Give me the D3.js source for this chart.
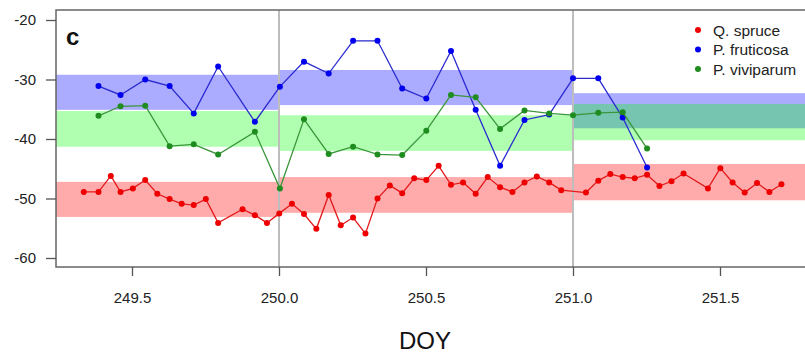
<!DOCTYPE html>
<html>
<head>
<meta charset="utf-8">
<script src="https://cdn.jsdelivr.net/npm/d3@7"></script>
<style>
  html, body { margin: 0; padding: 0; background: #fff; }
  svg { display: block; font-family: "Liberation Sans", Arial, sans-serif; }
</style>
</head>
<body>
<div id="chart"></div>
<script>
// DOY of each sample and the values
const spruceDoy = [249.336, 249.386, 249.428, 249.461, 249.503, 249.545, 249.586, 249.628, 249.669, 249.710,
  249.751, 249.793, 249.876, 249.918, 249.959, 250.001, 250.044, 250.085, 250.127, 250.169,
  250.210, 250.252, 250.294, 250.335, 250.377, 250.419, 250.460, 250.501, 250.543, 250.585,
  250.626, 250.669, 250.710, 250.752, 250.794, 250.835, 250.877, 250.919, 250.960, 251.044,
  251.086, 251.127, 251.169, 251.210, 251.252, 251.294, 251.335, 251.376, 251.459, 251.501,
  251.543, 251.584, 251.626, 251.668, 251.709];
const spruceVal = [-48.9, -48.9, -46.2, -48.9, -48.3, -46.9, -49.2, -50.1, -50.9, -51.1,
  -50.1, -54.1, -51.8, -52.8, -54.1, -52.5, -50.9, -52.6, -55.1, -49.4,
  -54.5, -53.2, -55.9, -50.0, -47.8, -49.1, -46.6, -46.9, -44.5, -47.7,
  -47.3, -49.2, -46.4, -48.1, -48.9, -47.3, -46.3, -47.3, -48.6, -49.0,
  -47.0, -45.9, -46.4, -46.6, -46.0, -47.9, -47.1, -45.8, -48.3, -44.9,
  -47.3, -49.0, -47.4, -48.9, -47.6];

const plantDoy = [249.386, 249.461, 249.545, 249.628, 249.710, 249.793, 249.918, 250.003, 250.085, 250.169,
  250.252, 250.335, 250.419, 250.501, 250.585, 250.669, 250.752, 250.835, 250.919, 251.0,
  251.086, 251.169, 251.252];
const fruticosaVal = [-31.1, -32.6, -30.0, -31.1, -35.7, -27.8, -37.1, -31.2, -27.0, -29.0,
  -23.5, -23.5, -31.5, -33.2, -25.2, -35.1, -44.5, -36.8, -35.9, -29.8,
  -29.8, -36.4, -44.8];
const viviparumVal = [-36.1, -34.5, -34.4, -41.2, -40.9, -42.6, -38.8, -48.3, -36.7, -42.5,
  -41.3, -42.6, -42.7, -38.6, -32.6, -33.0, -38.3, -35.2, -35.7, -36.0,
  -35.6, -35.5, -41.6];

// daily bands (low, high) per species
const bandDays = [249, 250, 251];
const spruceLo = [-53.1, -52.4, -50.3];
const spruceHi = [-47.2, -46.4, -44.2];
const fruticosaLo = [-35.1, -34.3, -38.2];
const fruticosaHi = [-29.2, -28.4, -32.3];
const viviparumLo = [-41.3, -42.0, -40.2];
const viviparumHi = [-35.3, -36.0, -34.1];

const xTicks = [249.5, 250.0, 250.5, 251.0, 251.5];
const yTicks = [-20, -30, -40, -50, -60];
const dayLines = [250, 251];

const W = 805, H = 354;
const mLeft = 56, mRight = 806, mTop = 10, mBottom = 267;

const x = d3.scaleLinear().domain([250, 251]).range([279, 573]);
const y = d3.scaleLinear().domain([-60, -20]).range([258, 20]);

const svg = d3.select("#chart").append("svg")
  .attr("width", W).attr("height", H);

svg.append("clipPath").attr("id", "plotclip")
  .append("rect").attr("x", mLeft).attr("y", mTop)
  .attr("width", mRight - mLeft).attr("height", mBottom - mTop);

const plot = svg.append("g").attr("clip-path", "url(#plotclip)");

// bands: red, blue, then green on top
const bandSets = [
  { lo: spruceLo, hi: spruceHi, fill: "rgba(255,0,0,0.33)" },
  { lo: fruticosaLo, hi: fruticosaHi, fill: "rgba(0,0,255,0.33)" },
  { lo: viviparumLo, hi: viviparumHi, fill: "rgba(0,255,0,0.31)" }
];
bandSets.forEach(b => {
  plot.selectAll(null).data(bandDays).enter().append("rect")
    .attr("x", d => x(d))
    .attr("width", d => x(d + 1) - x(d))
    .attr("y", (d, i) => y(b.hi[i]))
    .attr("height", (d, i) => y(b.lo[i]) - y(b.hi[i]))
    .attr("fill", b.fill);
});

// day separators
plot.selectAll(null).data(dayLines).enter().append("line")
  .attr("x1", d => x(d)).attr("x2", d => x(d))
  .attr("y1", mTop).attr("y2", mBottom)
  .attr("stroke", "#bdbdbd").attr("stroke-width", 2);

const series = [
  { doy: spruceDoy, val: spruceVal, line: "#e31a1c", dot: "#ee0000" },
  { doy: plantDoy, val: fruticosaVal, line: "#2a2ad0", dot: "#0000ee" },
  { doy: plantDoy, val: viviparumVal, line: "#3a963a", dot: "#1e8c1e" }
];
series.forEach(s => {
  const pts = s.doy.map((d, i) => [d, s.val[i]]);
  plot.append("path")
    .datum(pts)
    .attr("fill", "none")
    .attr("stroke", s.line)
    .attr("stroke-width", 1.3)
    .attr("d", d3.line().x(d => x(d[0])).y(d => y(d[1])));
  plot.selectAll(null).data(pts).enter().append("circle")
    .attr("cx", d => x(d[0])).attr("cy", d => y(d[1]))
    .attr("r", 3).attr("fill", s.dot);
});

// frame
svg.append("rect")
  .attr("x", mLeft).attr("y", mTop)
  .attr("width", mRight - mLeft).attr("height", mBottom - mTop)
  .attr("fill", "none").attr("stroke", "#666").attr("stroke-width", 1.5);

// axes
const xAxis = svg.append("g").attr("transform", `translate(0,${mBottom})`)
  .call(d3.axisBottom(x).tickValues(xTicks).tickFormat(d => d.toFixed(1)).tickSize(9).tickPadding(16));
const yAxis = svg.append("g").attr("transform", `translate(${mLeft},0)`)
  .call(d3.axisLeft(y).tickValues(yTicks).tickFormat(d => String(d)).tickSize(10).tickPadding(10));
[xAxis, yAxis].forEach(a => {
  a.select(".domain").remove();
  a.selectAll(".tick line").attr("stroke", "#555").attr("stroke-width", 1.3);
  a.selectAll(".tick text").attr("fill", "#222")
    .style("font-size", "15px").style("font-family", "Liberation Sans, Arial, sans-serif");
});

svg.append("text")
  .attr("x", (x(250) + x(251)) / 2 - 1).attr("y", 349)
  .attr("text-anchor", "middle")
  .style("font-size", "24px").attr("fill", "#111")
  .text("DOY");

svg.append("text")
  .attr("x", 66).attr("y", 45)
  .style("font-size", "24px").style("font-weight", "bold")
  .attr("fill", "#111")
  .text("c");

// legend
const legendNames = ["Q. spruce", "P. fruticosa", "P. viviparum"];
const legendColors = ["#ee0000", "#0000ee", "#1e8c1e"];
const lg = svg.append("g").attr("transform", "translate(698,30)");
legendNames.forEach((n, i) => {
  lg.append("circle").attr("cx", 0).attr("cy", i * 19.5).attr("r", 3).attr("fill", legendColors[i]);
  lg.append("text").attr("x", 15).attr("y", i * 19.5 + 5.5)
    .style("font-size", "15.5px").attr("fill", "#222").text(n);
});
</script>
</body>
</html>
